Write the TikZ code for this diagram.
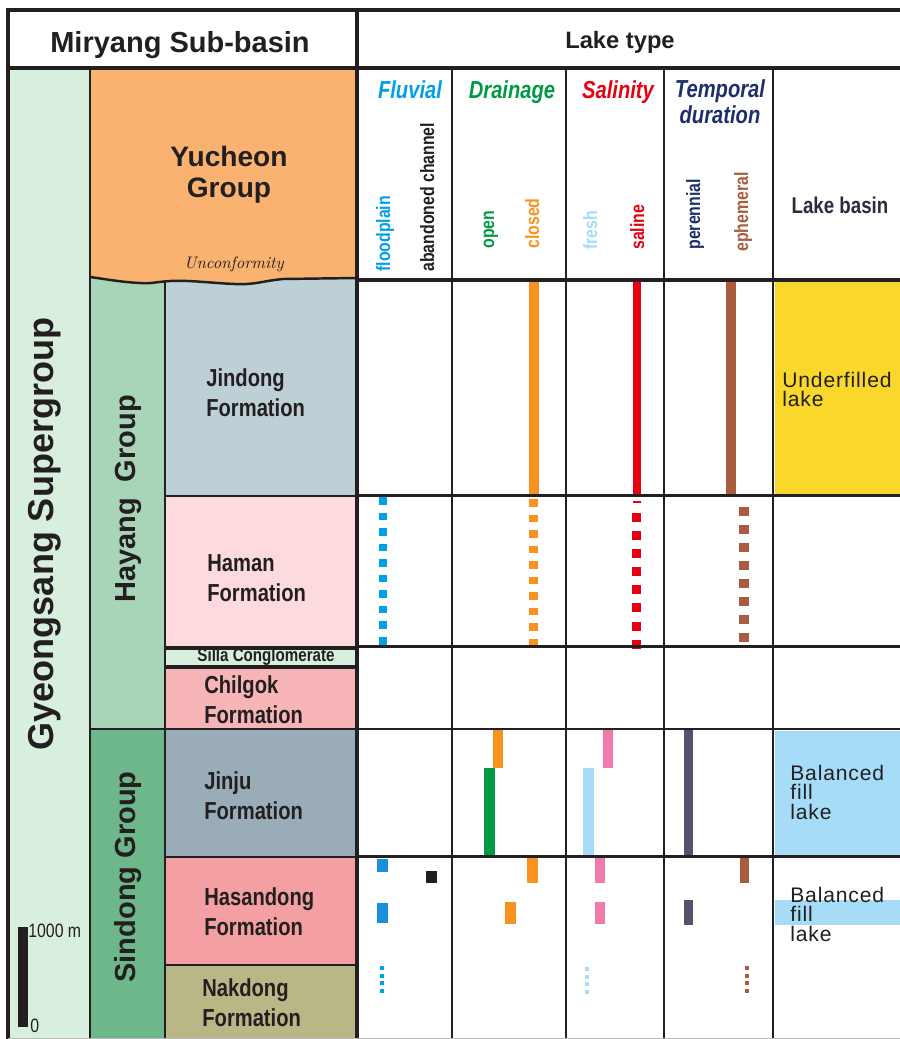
\documentclass[tikz,border=0pt]{standalone}
\usepackage{fontspec}
\newfontfamily\arialfont{Liberation Sans}
\newfontfamily\narrowfont[FakeStretch=0.82]{Liberation Sans}
\newfontfamily\basinfont[LetterSpace=4]{Liberation Sans}

\definecolor{linedark}{HTML}{231F20}
\definecolor{supergreen}{HTML}{D9EFDE}
\definecolor{hayanggreen}{HTML}{A8D5B7}
\definecolor{sindonggreen}{HTML}{6DB78B}
\definecolor{yucheonorange}{HTML}{F9B26F}
\definecolor{jindongblue}{HTML}{BDD0D6}
\definecolor{hamanpink}{HTML}{FDDADD}
\definecolor{sillagreen}{HTML}{D8EFDD}
\definecolor{chilgokpink}{HTML}{F7B5B7}
\definecolor{jinjugrey}{HTML}{99ACB7}
\definecolor{hasandongpink}{HTML}{F4A0A3}
\definecolor{nakdongolive}{HTML}{B9B786}
\definecolor{fluvialblue}{HTML}{00A0E9}
\definecolor{floodblue}{HTML}{1A8FDB}
\definecolor{draingreen}{HTML}{009A44}
\definecolor{closedorange}{HTML}{F7931E}
\definecolor{salinered}{HTML}{E60012}
\definecolor{freshblue}{HTML}{A6DCF7}
\definecolor{salinepink}{HTML}{F07AAB}
\definecolor{temporalblue}{HTML}{1F2F6B}
\definecolor{perennialslate}{HTML}{56526E}
\definecolor{ephemeralbrown}{HTML}{A95C3F}
\definecolor{underfillyellow}{HTML}{F9D72B}
\definecolor{balancedblue}{HTML}{A6DCF7}
\definecolor{basintext}{HTML}{2B2A3E}

\tikzset{
  frameline/.style={draw=linedark, line width=2.2pt},
  gridline/.style={draw=linedark, line width=1.6pt},
  boxline/.style={draw=linedark, line width=1.4pt},
  grouplabel/.style={rotate=90, anchor=base, inner sep=0pt, text=linedark, font=\arialfont\bfseries\fontsize{16.5}{20}\selectfont},
  fmlabel/.style={anchor=west, align=left, inner sep=0pt, text=linedark, font=\narrowfont\bfseries\fontsize{14}{17}\selectfont},
  typehead/.style={anchor=base, align=center, inner sep=0pt, font=\narrowfont\bfseries\itshape\fontsize{14}{15}\selectfont},
  subtype/.style={rotate=90, anchor=base west, inner sep=0pt, font=\narrowfont\bfseries\fontsize{11}{12}\selectfont},
  basinlabel/.style={anchor=north west, align=left, inner sep=0pt, text=linedark, font=\basinfont\fontsize{12}{11}\selectfont},
}

\begin{document}
\begin{tikzpicture}[x=0.02cm, y=-0.02cm]
\useasboundingbox (0,0) rectangle (900,1039);
\fill[white] (0,0) rectangle (900,1039);

% stratigraphic column
\fill[supergreen] (8,68) rectangle (90,1042);
\draw[boxline, fill=hayanggreen] (90,276) rectangle (165,729);
\draw[boxline, fill=sindonggreen] (90,729) rectangle (165,1042);
\draw[boxline, fill=jindongblue] (165,276) rectangle (357,496);
\draw[boxline, fill=hamanpink] (165,496) rectangle (357,647);
\draw[boxline, fill=sillagreen] (165,648.5) rectangle (357,666);
\draw[boxline, fill=chilgokpink] (165,667.5) rectangle (357,729);
\draw[boxline, fill=jinjugrey] (165,729) rectangle (357,857);
\draw[boxline, fill=hasandongpink] (165,857) rectangle (357,965);
\draw[boxline, fill=nakdongolive] (165,965) rectangle (357,1042);

% Yucheon Group above the unconformity
\fill[yucheonorange] (90,68) -- (357,68) -- (357,278) -- (283,279)
  .. controls (262,281) and (255,285) .. (235,284)
  .. controls (210,283) and (190,280) .. (170,281)
  .. controls (155,282) and (150,284) .. (140,283)
  .. controls (120,282) and (105,279) .. (90,277) -- cycle;
\draw[boxline] (90,277) .. controls (105,279) and (120,282) .. (140,283)
  .. controls (150,284) and (155,282) .. (170,281)
  .. controls (190,280) and (210,283) .. (235,284)
  .. controls (255,285) and (262,281) .. (283,279) -- (357,278);

% Jindong bars
\fill[closedorange] (528.5,282) rectangle (539,495);
\fill[salinered] (632.5,282) rectangle (641,495);
\fill[ephemeralbrown] (726,282) rectangle (735.5,495);

% Haman dotted bars
\draw[fluvialblue, line width=4.6pt, dash pattern=on 4.3pt off 4.55pt] (383,497) -- (383,645);
\draw[closedorange, line width=4.6pt, dash pattern=on 4.3pt off 4.55pt] (533.5,499) -- (533.5,647);
\fill[salinered] (632.5,500.5) rectangle (641,502.5);
\draw[salinered, line width=5.2pt, dash pattern=on 5.1pt off 5.2pt] (636.7,513) -- (636.7,650);
\draw[ephemeralbrown, line width=5.2pt, dash pattern=on 5.1pt off 5.15pt] (744,506.7) -- (744,643);

% Jinju bars
\fill[closedorange] (493,729) rectangle (503,768);
\fill[draingreen] (484,768) rectangle (495,856);
\fill[salinepink] (603,729) rectangle (613,768);
\fill[freshblue] (583,768) rectangle (594,856);
\fill[perennialslate] (684,729) rectangle (693,856);

% Hasandong bars
\fill[floodblue] (377,859) rectangle (388,872);
\fill[linedark] (426,871) rectangle (437,883);
\fill[floodblue] (377,903) rectangle (388,923);
\fill[closedorange] (527,856) rectangle (538,883);
\fill[closedorange] (505,902) rectangle (516,924);
\fill[salinepink] (595,856) rectangle (605,883);
\fill[salinepink] (595,902) rectangle (605,924);
\fill[perennialslate] (684,900) rectangle (693,925);
\fill[ephemeralbrown] (740,856) rectangle (749,883);

% Nakdong dots
\draw[fluvialblue, line width=2.6pt, dash pattern=on 2.4pt off 1.9pt] (382,966) -- (382,996);
\draw[freshblue, line width=2.6pt, dash pattern=on 2.4pt off 1.9pt] (587,967) -- (587,997);
\draw[ephemeralbrown, line width=2.6pt, dash pattern=on 2.4pt off 1.9pt] (747,966) -- (747,996);

% lake basin fills
\fill[underfillyellow] (775,282) rectangle (900,494);
\fill[balancedblue] (775,730.5) rectangle (900,855);
\fill[balancedblue] (775,900) rectangle (900,925);

% table lines
\draw[frameline] (8,10) -- (900,10);
\draw[frameline] (8,68) -- (900,68);
\draw[frameline] (8,8) -- (8,1042);
\draw[frameline] (357,8) -- (357,1042);
\draw[boxline] (90,68) -- (90,1042);
\draw[frameline] (357,280) -- (900,280);
\foreach \yy in {495.5,646.5,729,856.5}
  \draw[gridline] (357,\yy) -- (900,\yy);
\foreach \xx in {452,566,664,773}
  \draw[gridline] (\xx,68) -- (\xx,1042);
\draw[gray!55, line width=0.8pt] (8,1038.5) -- (900,1038.5);

% scale bar
\fill[linedark] (18,927) rectangle (28,1027);
\node[anchor=base west, inner sep=0pt, text=linedark, font=\narrowfont\fontsize{11}{13}\selectfont] (scaletop) at (28,937) {1000 m};
\node[anchor=base west, inner sep=0pt, text=linedark, font=\narrowfont\fontsize{11}{13}\selectfont] (scalezero) at (30,1032) {0};

% headings
\node[anchor=base, inner sep=0pt, text=linedark, font=\arialfont\bfseries\fontsize{16.5}{20}\selectfont] (subbasin) at (180,52) {Miryang Sub-basin};
\node[anchor=base, inner sep=0pt, text=linedark, font=\arialfont\bfseries\fontsize{13.5}{16}\selectfont] (laketype) at (620,48) {Lake type};
\node[typehead, text=fluvialblue] (fluvial) at (410,98) {Fluvial};
\node[typehead, text=draingreen] (drainage) at (512,98) {Drainage};
\node[typehead, text=salinered] (salinity) at (618,98) {Salinity};
\node[typehead, anchor=north, text=temporalblue] (temporal) at (720,79) {Temporal\\duration};
\node[anchor=base, inner sep=0pt, text=basintext, font=\narrowfont\bfseries\fontsize{13}{15}\selectfont] (lakebasin) at (840,213) {Lake basin};

% lake type members
\node[subtype, text=fluvialblue] (floodplain) at (390,272) {floodplain};
\node[subtype, text=linedark] (abandoned) at (434,272) {abandoned channel};
\node[subtype, text=draingreen] (open) at (494,249) {open};
\node[subtype, text=closedorange] (closed) at (539,249) {closed};
\node[subtype, text=freshblue] (fresh) at (597,250) {fresh};
\node[subtype, text=salinered] (saline) at (644,250) {saline};
\node[subtype, text=temporalblue] (perennial) at (700,250) {perennial};
\node[subtype, text=ephemeralbrown] (ephemeral) at (748,252) {ephemeral};

% groups and formations
\node[grouplabel, font=\arialfont\bfseries\fontsize{20.5}{24}\selectfont] (supergroup) at (53,534) {Gyeongsang Supergroup};
\node[grouplabel] (hayang) at (135,499) {Hayang\ \ Group};
\node[grouplabel] (sindong) at (135,877) {Sindong Group};
\node[anchor=north, align=center, inner sep=0pt, text=linedark, font=\arialfont\bfseries\fontsize{16}{17.6}\selectfont] (yucheon) at (229,146) {Yucheon\\Group};
\node[anchor=base, inner sep=0pt, text=linedark, font=\rmfamily\itshape\fontsize{9.5}{11}\selectfont] (unconformity) at (234,268) {Unconformity};
\node[fmlabel] (jindong) at (206,393) {Jindong\\Formation};
\node[fmlabel] (haman) at (207,578) {Haman\\Formation};
\node[anchor=center, inner sep=0pt, text=linedark, font=\narrowfont\bfseries\fontsize{10.5}{12}\selectfont] (silla) at (266,657) {Silla Conglomerate};
\node[fmlabel] (chilgok) at (204,700) {Chilgok\\Formation};
\node[fmlabel] (jinju) at (204,796) {Jinju\\Formation};
\node[fmlabel] (hasandong) at (204,912) {Hasandong\\Formation};
\node[fmlabel] (nakdong) at (202,1003) {Nakdong\\Formation};

% lake basin types
\node[basinlabel] (underfilled) at (782,372) {Underfilled\\lake};
\node[basinlabel] (balancedjinju) at (790,765) {Balanced\\fill\\lake};
\node[basinlabel] (balancedhasan) at (790,887) {Balanced\\fill\\lake};
\end{tikzpicture}
\end{document}
